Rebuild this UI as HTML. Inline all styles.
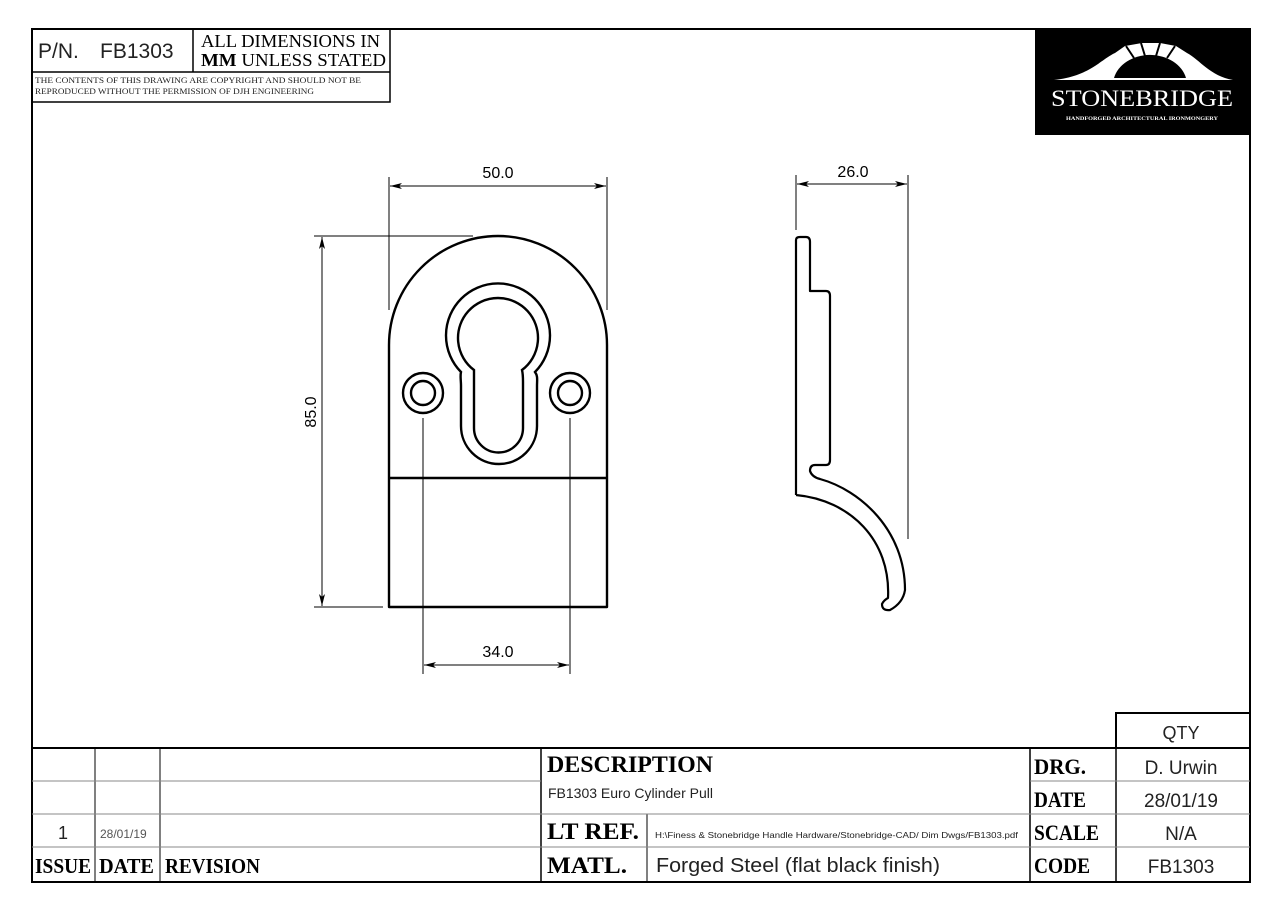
<!DOCTYPE html>
<html><head><meta charset="utf-8"><style>
html,body{margin:0;padding:0;background:#fff;}
svg{display:block}
.s{font-family:"Liberation Serif",serif;}
.a{font-family:"Liberation Sans",sans-serif;}
</style></head><body>
<svg width="1280" height="905" viewBox="0 0 1280 905" xmlns="http://www.w3.org/2000/svg">
<defs>
<marker id="ar" viewBox="0 0 12 6" refX="12" refY="3" markerWidth="12" markerHeight="6" markerUnits="userSpaceOnUse" orient="auto-start-reverse"><path d="M0,0 L12,3 L0,6 L3,3 z" fill="#000"/></marker>
</defs>
<rect x="0" y="0" width="1280" height="905" fill="#fff"/>
<!-- frame -->
<rect x="32" y="29" width="1218" height="853" fill="none" stroke="#000" stroke-width="2"/>
<!-- top-left box -->
<path d="M32,102 H390 V29 M32,72 H390 M193,29 V72" fill="none" stroke="#000" stroke-width="1.5"/>
<text x="38" y="58" class="a" font-size="21" fill="#222">P/N.</text>
<text x="100" y="58" class="a" font-size="21" fill="#222">FB1303</text>
<text x="201" y="47" class="s" font-size="17.5" fill="#000" textLength="179" lengthAdjust="spacingAndGlyphs">ALL DIMENSIONS IN</text>
<text x="201" y="66" class="s" font-size="17.5" fill="#000" textLength="185" lengthAdjust="spacingAndGlyphs"><tspan font-weight="bold">MM</tspan> UNLESS STATED</text>
<text x="35" y="83" class="s" font-size="8.5" fill="#222" textLength="326" lengthAdjust="spacingAndGlyphs">THE CONTENTS OF THIS DRAWING ARE COPYRIGHT AND  SHOULD  NOT BE</text>
<text x="35" y="94" class="s" font-size="8.5" fill="#222" textLength="279" lengthAdjust="spacingAndGlyphs">REPRODUCED WITHOUT THE PERMISSION OF DJH ENGINEERING</text>
<!-- logo -->
<rect x="1035" y="29" width="215" height="106" fill="#000"/>
<path d="M1054,80 C1090,76 1100,60 1115,53 L1125,46 L1142,43 L1160,43 L1176,46 L1187,53 C1200,60 1210,76 1233,80 Z" fill="#fff"/>
<path d="M1114,78 A37,30 0 0 1 1186,78 Z" fill="#000"/>
<path d="M1126,46 L1134,58 M1141,43 L1145,56 M1160,43 L1156,56 M1175,46 L1167,58" stroke="#000" stroke-width="2"/>
<text x="1142" y="106" class="s" font-size="23" fill="#fff" text-anchor="middle" textLength="182" lengthAdjust="spacingAndGlyphs">STONEBRIDGE</text>
<text x="1142" y="120" class="s" font-size="5.5" fill="#fff" text-anchor="middle" font-weight="bold" textLength="152" lengthAdjust="spacingAndGlyphs">HANDFORGED ARCHITECTURAL IRONMONGERY</text>

<!-- front view -->
<g fill="none" stroke="#000" stroke-width="2.4">
<path d="M389,607 V345 A109,109 0 0 1 607,345 V607 Z" stroke-linejoin="round"/>
<line x1="389" y1="478" x2="607" y2="478"/>
<path d="M461,372 A52,52 0 1 1 535,372 C538,376 537,380 537,386 V426 A38,38 0 0 1 461,426 V386 C461,380 460,376 461,372 Z"/>
<path d="M474,370 A40,40 0 1 1 522,370 C523,374 523,378 523,382 V428 A24.5,24.5 0 0 1 474,428 V382 C474,378 474,374 474,370 Z"/>
<circle cx="423" cy="393" r="20"/><circle cx="423" cy="393" r="12"/>
<circle cx="570" cy="393" r="20"/><circle cx="570" cy="393" r="12"/>
</g>
<!-- side view -->
<g fill="none" stroke="#000" stroke-width="2.2" stroke-linejoin="round">
<path d="M796,495 V240 Q796,237 800,237 H806 Q810,237 810,242 V291 H826 Q830,291 830,296 V460 Q830,465 826,465 H815 Q810,465 810,471 Q812,477 820,479 C860,490 905,530 905,590 Q903,603 890,610 Q882,611 882,604 Q884,600 888,598 C891,540 850,500 796,495"/>
</g>
<!-- dimensions -->
<g stroke="#000" stroke-width="1" fill="none">
<line x1="389" y1="177" x2="389" y2="310"/>
<line x1="607" y1="177" x2="607" y2="310"/>
<line x1="390" y1="186" x2="606" y2="186" marker-start="url(#ar)" marker-end="url(#ar)"/>
<line x1="314" y1="236" x2="473" y2="236"/>
<line x1="314" y1="607" x2="383" y2="607"/>
<line x1="322" y1="237" x2="322" y2="606" marker-start="url(#ar)" marker-end="url(#ar)"/>
<line x1="423" y1="418" x2="423" y2="674"/>
<line x1="570" y1="418" x2="570" y2="674"/>
<line x1="424" y1="665" x2="569" y2="665" marker-start="url(#ar)" marker-end="url(#ar)"/>
<line x1="796" y1="175" x2="796" y2="230"/>
<line x1="908" y1="175" x2="908" y2="539"/>
<line x1="797" y1="184" x2="907" y2="184" marker-start="url(#ar)" marker-end="url(#ar)"/>
</g>
<g class="a" font-size="16" fill="#000" text-anchor="middle">
<text x="498" y="178">50.0</text>
<text x="498" y="657">34.0</text>
<text x="853" y="177">26.0</text>
<text transform="translate(316,412) rotate(-90)">85.0</text>
</g>

<!-- title block -->
<g stroke="#000" fill="none">
<line x1="32" y1="748" x2="1250" y2="748" stroke-width="2"/>
<path d="M1116,748 V713 H1250" stroke-width="2"/>
<line x1="95" y1="748" x2="95" y2="882" stroke-width="1"/>
<line x1="160" y1="748" x2="160" y2="882" stroke-width="1"/>
<line x1="541" y1="748" x2="541" y2="882" stroke-width="1.5"/>
<line x1="1030" y1="748" x2="1030" y2="882" stroke-width="1.5"/>
<line x1="1116" y1="748" x2="1116" y2="882" stroke-width="1.5"/>
<line x1="647" y1="814" x2="647" y2="882" stroke-width="1"/>
<g stroke="#888" stroke-width="1">
<line x1="32" y1="781" x2="541" y2="781"/>
<line x1="32" y1="814" x2="1250" y2="814"/>
<line x1="32" y1="847" x2="1250" y2="847"/>
<line x1="1030" y1="781" x2="1250" y2="781"/>
</g>
</g>
<g class="s" font-weight="bold" fill="#000">
<text x="35" y="873" font-size="21" textLength="56" lengthAdjust="spacingAndGlyphs">ISSUE</text>
<text x="99" y="873" font-size="21" textLength="55" lengthAdjust="spacingAndGlyphs">DATE</text>
<text x="165" y="873" font-size="21" textLength="95" lengthAdjust="spacingAndGlyphs">REVISION</text>
<text x="547" y="772" font-size="23" textLength="166" lengthAdjust="spacingAndGlyphs">DESCRIPTION</text>
<text x="547" y="839" font-size="23" textLength="92" lengthAdjust="spacingAndGlyphs">LT REF.</text>
<text x="547" y="873" font-size="23" textLength="80" lengthAdjust="spacingAndGlyphs">MATL.</text>
<text x="1034" y="774" font-size="22" textLength="52" lengthAdjust="spacingAndGlyphs">DRG.</text>
<text x="1034" y="807" font-size="22" textLength="52" lengthAdjust="spacingAndGlyphs">DATE</text>
<text x="1034" y="840" font-size="22" textLength="65" lengthAdjust="spacingAndGlyphs">SCALE</text>
<text x="1034" y="873" font-size="22" textLength="56" lengthAdjust="spacingAndGlyphs">CODE</text>
</g>
<g class="a" fill="#222">
<text x="63" y="839" font-size="18" text-anchor="middle">1</text>
<text x="100" y="838" font-size="12" fill="#555">28/01/19</text>
<text x="548" y="798" font-size="14">FB1303 Euro Cylinder Pull</text>
<text x="655" y="838" font-size="8.6" textLength="363" lengthAdjust="spacingAndGlyphs">H:\Finess &amp; Stonebridge Handle Hardware/Stonebridge-CAD/ Dim Dwgs/FB1303.pdf</text>
<text x="656" y="872" font-size="20" textLength="284" lengthAdjust="spacingAndGlyphs">Forged Steel (flat black finish)</text>
<text x="1181" y="739" font-size="18" text-anchor="middle">QTY</text>
<text x="1181" y="774" font-size="19" text-anchor="middle">D. Urwin</text>
<text x="1181" y="807" font-size="19" text-anchor="middle">28/01/19</text>
<text x="1181" y="840" font-size="19" text-anchor="middle">N/A</text>
<text x="1181" y="873" font-size="19" text-anchor="middle">FB1303</text>
</g>
</svg>
</body></html>
